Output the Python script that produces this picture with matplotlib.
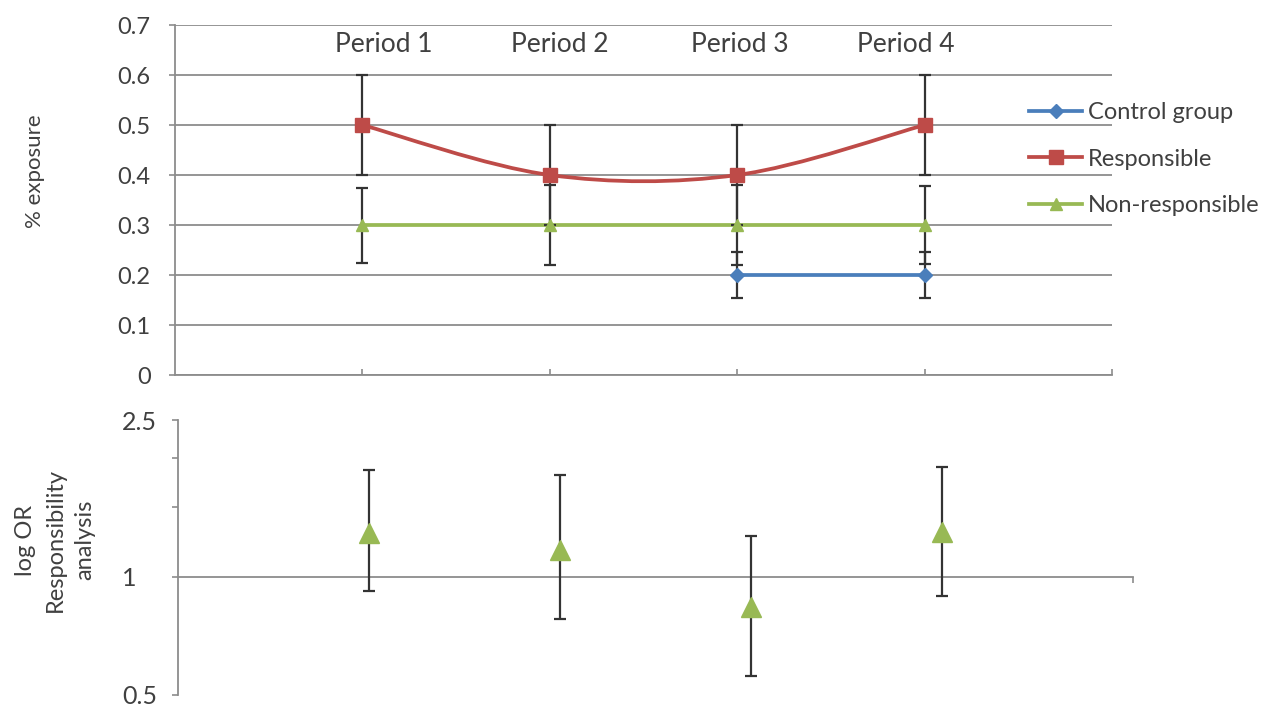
import numpy as np
import matplotlib
matplotlib.use("Agg")
import matplotlib.pyplot as plt
from matplotlib.path import Path
from matplotlib.patches import PathPatch
from matplotlib.lines import Line2D
from matplotlib.ticker import FixedLocator, FixedFormatter, NullFormatter

plt.rcParams["font.family"] = ["Lato", "DejaVu Sans"]

periods = ["Period 1", "Period 2", "Period 3", "Period 4"]
period_pos = [1, 2, 3, 4]

# % exposure per group (None = no measurement)
control = [None, None, 0.2, 0.2]
control_err = [None, None, 0.046, 0.046]
responsible = [0.5, 0.4, 0.4, 0.5]
responsible_err = [0.1, 0.1, 0.1, 0.1]
non_responsible = [0.3, 0.3, 0.3, 0.3]
non_responsible_err = [0.075, 0.08, 0.08, 0.078]

# odds ratios for the responsibility analysis, with CI bounds
log_or = [1.29, 1.17, 0.835, 1.30]
log_or_low = [0.92, 0.778, 0.558, 0.89]
log_or_high = [1.87, 1.81, 1.27, 1.90]

BLUE = "#4a7ebb"
RED = "#be4b48"
GREEN = "#98b954"
GRID = "#8c8c8c"
TEXT = "#404040"
BAR = "#333333"

W, H = 1270, 711

"""
smoothed line through the points (cubic bezier, catmull-rom tangents)
"""


def smooth_path(xs, ys):
    pts = np.column_stack([xs, ys]).astype(float)
    n = len(pts)
    verts = [pts[0]]
    codes = [Path.MOVETO]
    for i in range(n - 1):
        p0 = pts[max(i - 1, 0)]
        p1 = pts[i]
        p2 = pts[i + 1]
        p3 = pts[min(i + 2, n - 1)]
        c1 = p1 + (p2 - p0) / 6.0
        c2 = p2 - (p3 - p1) / 6.0
        verts += [c1, c2, p2]
        codes += [Path.CURVE4] * 3
    return Path(verts, codes)


"""
drop the periods with no value
"""


def valid(xs, ys, errs):
    keep = [i for i, v in enumerate(ys) if v is not None]
    return ([xs[i] for i in keep], [ys[i] for i in keep], [errs[i] for i in keep])


def px_box(left, top, right, bottom):
    return [left / W, 1 - bottom / H, (right - left) / W, (bottom - top) / H]


fig = plt.figure(figsize=(W / 100, H / 100), dpi=100)

# ---- top panel: exposure per period ----
ax = fig.add_axes(px_box(175, 25, 1112, 375))
ax.set_xlim(0, 5)
ax.set_ylim(0, 0.7)
ax.set_yticks(np.arange(0, 0.71, 0.1))
ax.set_yticklabels(["0", "0.1", "0.2", "0.3", "0.4", "0.5", "0.6", "0.7"])
ax.yaxis.grid(True, color=GRID, linewidth=1.3)
ax.set_axisbelow(True)
ax.set_xticks([1, 2, 3, 4, 5])
ax.set_xticklabels([])
ax.tick_params(axis="x", direction="in", length=4.5, color=GRID, width=1.2)
ax.tick_params(axis="y", direction="out", length=4.5, color=GRID, width=1.2,
               labelsize=17, labelcolor=TEXT, pad=13)
for side in ["top", "right"]:
    ax.spines[side].set_visible(False)
for side in ["left", "bottom"]:
    ax.spines[side].set_color(GRID)
    ax.spines[side].set_linewidth(1.3)

series = [
    ("Control group", control, control_err, BLUE, "D", 7, False),
    ("Responsible", responsible, responsible_err, RED, "s", 10, True),
    ("Non-responsible", non_responsible, non_responsible_err, GREEN, "^", 8, False),
]
handles = []
for name, vals, errs, color, marker, ms, smooth in series:
    xs, ys, es = valid(period_pos, vals, errs)
    if smooth:
        ax.add_patch(PathPatch(smooth_path(xs, ys), facecolor="none",
                               edgecolor=color, linewidth=2.7, zorder=3))
    else:
        ax.plot(xs, ys, color=color, linewidth=2.7, zorder=3)
    ax.errorbar(xs, ys, yerr=es, fmt="none", ecolor=BAR, elinewidth=1.6,
                capsize=4, capthick=1.6, zorder=4)
    ax.plot(xs, ys, linestyle="none", marker=marker, markersize=ms,
            color=color, zorder=5)
    handles.append(Line2D([], [], color=color, linewidth=2.7, marker=marker,
                          markersize=ms, label=name))

# period captions sit as free text boxes along the top of the panel
caption_x = [384, 560, 740, 906]
for px, label in zip(caption_x, periods):
    fig.text(px / W, 1 - 45 / H, label, ha="center", va="center",
             fontsize=19, color=TEXT)

fig.text(35 / W, 1 - 171 / H, "% exposure", rotation=90, ha="center",
         va="center", fontsize=16, color=TEXT)

fig.legend(handles=handles, loc="upper left",
           bbox_to_anchor=(1029 / W, 1 - 102 / H), frameon=False,
           fontsize=17, labelcolor=TEXT, handlelength=2.25, handletextpad=0.25,
           labelspacing=1.08, borderpad=0, borderaxespad=0)

# ---- bottom panel: log OR ----
bx = fig.add_axes(px_box(178, 420, 1133, 695))
bx.set_yscale("log")
bx.set_xlim(0, 5)
bx.set_ylim(0.5, 2.5)
bx.yaxis.set_major_locator(FixedLocator([0.5, 1, 2.5]))
bx.yaxis.set_major_formatter(FixedFormatter(["0.5", "1", "2.5"]))
bx.yaxis.set_minor_locator(FixedLocator([1.5, 2]))
bx.yaxis.set_minor_formatter(NullFormatter())
bx.tick_params(axis="y", which="both", direction="out", length=4.5, color=GRID,
               width=1.2, labelsize=18, labelcolor=TEXT, pad=36)
for lab in bx.get_yticklabels():
    lab.set_horizontalalignment("left")
bx.set_xticks([5])
bx.set_xticklabels([])
bx.tick_params(axis="x", direction="out", length=4.5, color=GRID, width=1.2)
bx.spines["bottom"].set_position(("data", 1))
for side in ["top", "right"]:
    bx.spines[side].set_visible(False)
for side in ["left", "bottom"]:
    bx.spines[side].set_color(GRID)
    bx.spines[side].set_linewidth(1.3)

fig.text(55 / W, 1 - 540 / H, "log OR\nResponsibility\nanalysis", rotation=90,
         ha="center", va="center", multialignment="center", fontsize=17,
         color=TEXT, linespacing=1.5)

lo = np.array(log_or) - np.array(log_or_low)
hi = np.array(log_or_high) - np.array(log_or)
bx.errorbar(period_pos, log_or, yerr=[lo, hi], fmt="none", ecolor=BAR,
            elinewidth=1.6, capsize=4, capthick=1.6, zorder=3)
bx.plot(period_pos, log_or, linestyle="none", marker="^", markersize=14,
        color=GREEN, zorder=4)

fig.savefig("out.png", dpi=100)
